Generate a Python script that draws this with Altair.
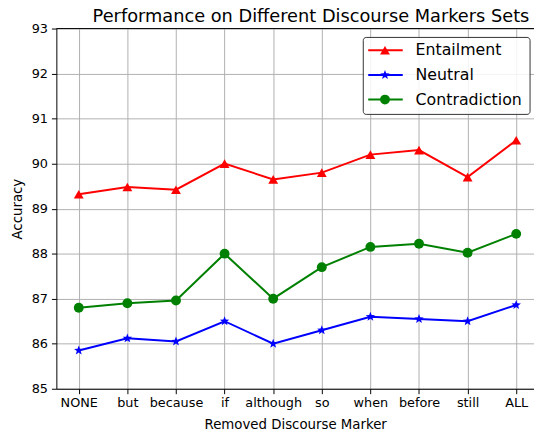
import math
import altair as alt
import pandas as pd

markers = ["NONE", "but", "because", "if", "although", "so", "when", "before", "still", "ALL"]
series = ["Entailment", "Neutral", "Contradiction"]
entailment = [89.32, 89.48, 89.42, 90.0, 89.65, 89.8, 90.2, 90.3, 89.7, 90.52]
neutral = [85.85, 86.12, 86.05, 86.5, 86.0, 86.3, 86.6, 86.55, 86.5, 86.86]
contradiction = [86.8, 86.9, 86.96, 88.0, 87.0, 87.7, 88.15, 88.22, 88.02, 88.44]
colors = ["#ff0000", "#0000ff", "#008000"]


def star_path(inner=0.42):
    pts = []
    for k in range(10):
        r = 1.0 if k % 2 == 0 else inner
        a = -math.pi / 2 + k * math.pi / 5
        pts.append(f"{r * math.cos(a):.3f},{r * math.sin(a):.3f}")
    return "M" + "L".join(pts) + "Z"


shapes = ["triangle-up", star_path(), "circle"]

rows = []
for name, vals in zip(series, [entailment, neutral, contradiction]):
    for i, v in enumerate(vals):
        rows.append({"idx": i, "series": name, "acc": v})
df = pd.DataFrame(rows)

FONT = "DejaVu Sans"


def js_str(s):
    return "(" + "+".join("'" + c + "'" for c in s) + ")"


label_expr = "[" + ",".join(js_str(m) for m in markers) + "][datum.value]"

color_scale = alt.Scale(domain=series, range=colors)
shape_scale = alt.Scale(domain=series, range=shapes)

x = alt.X("idx:Q", scale=alt.Scale(domain=[-0.461, 9.366], nice=False, zero=False),
          axis=alt.Axis(values=list(range(len(markers))), labelExpr=label_expr,
                        title="Removed Discourse Marker", grid=True, tickSize=5,
                        labelPadding=3, titlePadding=8, labelFlush=False))
y = alt.Y("acc:Q", scale=alt.Scale(domain=[85, 93], nice=False, zero=False),
          axis=alt.Axis(values=list(range(85, 94)), title="Accuracy", grid=True,
                        tickSize=5, labelPadding=4, titlePadding=7))

base = alt.Chart(df)
lines = base.mark_line(strokeWidth=2).encode(
    x=x, y=y,
    color=alt.Color("series:N", scale=color_scale, legend=None),
    detail="series:N",
)
points = base.mark_point(filled=True, size=100, opacity=1).encode(
    x=x, y=y,
    color=alt.Color("series:N", scale=color_scale, legend=None),
    shape=alt.Shape("series:N", scale=shape_scale, legend=None),
)
main = alt.layer(lines, points)

# top spine (right spine falls outside the picture in the reference)
top_spine = alt.Chart(pd.DataFrame({"a": [0]})).mark_rule(color="black", strokeWidth=1).encode(
    x=alt.value(0), x2=alt.value(484), y=alt.value(0))

# legend
leg_df = pd.DataFrame({"series": series, "row": [0, 1, 2]})
box = alt.Chart(pd.DataFrame({"a": [0]})).mark_rect(
    fill="white", fillOpacity=0.85, stroke="#333333", strokeWidth=1, cornerRadius=3
).encode(x=alt.value(311), x2=alt.value(480), y=alt.value(9), y2=alt.value(87))
ly = alt.Y("row:Q", scale=alt.Scale(domain=[0, 2], range=[22, 72], nice=False, zero=False), axis=None)
leg_base = alt.Chart(leg_df)
leg_lines = leg_base.mark_rule(strokeWidth=2).encode(
    x=alt.value(316), x2=alt.value(351), y=ly,
    color=alt.Color("series:N", scale=color_scale, legend=None))
leg_pts = leg_base.mark_point(filled=True, size=100, opacity=1).encode(
    x=alt.value(333), y=ly,
    color=alt.Color("series:N", scale=color_scale, legend=None),
    shape=alt.Shape("series:N", scale=shape_scale, legend=None))
leg_text = leg_base.mark_text(align="left", baseline="middle", font=FONT, fontSize=16,
                              color="black").encode(
    x=alt.value(364), y=ly, text="series:N")

legend = alt.layer(box, leg_lines, leg_pts, leg_text)

chart = alt.layer(main, top_spine, legend).resolve_scale(y="independent").properties(
    width=484, height=365,
    autosize=alt.AutoSizeParams(type="none"),
    padding={"left": 49, "top": 18, "right": 0, "bottom": 41},
    title=alt.TitleParams("Performance on Different Discourse Markers Sets",
                          font=FONT, fontSize=18, fontWeight="normal", color="black",
                          anchor="middle", dx=16, dy=3, offset=0),
).configure_view(strokeWidth=0).configure_axis(
    labelFont=FONT, titleFont=FONT, labelFontSize=13, titleFontSize=13.5,
    labelColor="black", titleColor="black", titleFontWeight="normal",
    gridColor="#b0b0b0", gridWidth=1, gridOpacity=1, domain=True,
    domainColor="black", tickColor="black", domainWidth=1,
)

chart.save("out.html", embed_options={"renderer": "svg", "actions": False})
